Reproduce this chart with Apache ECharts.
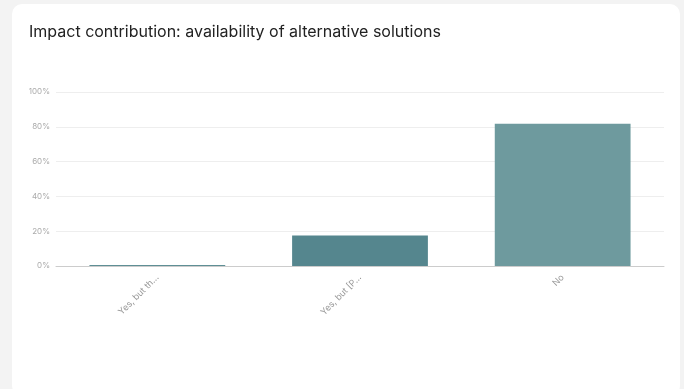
<!DOCTYPE html>
<html>
<head>
<meta charset="utf-8">
<script src="https://cdn.jsdelivr.net/npm/echarts@6/dist/echarts.min.js"></script>
<style>
  html, body { margin: 0; padding: 0; background: #f3f3f3; width: 684px; height: 389px; overflow: hidden; }
  #card { position: absolute; left: 12px; top: 4px; width: 668px; height: 392px; background: #fff; border-radius: 10px; }
  #chart { width: 668px; height: 392px; }
</style>
</head>
<body>
<div id="card"><div id="chart"></div></div>
<script>
// Share of responses per answer (percent)
const categories = ['Yes, but th...', 'Yes, but [P...', 'No'];
const shares = [0.6, 17.6, 81.8];
const barColors = ['#5f8f95', '#55868e', '#6e9a9e'];
const yTicks = [0, 20, 40, 60, 80, 100];

const chart = echarts.init(document.getElementById('chart'));
chart.setOption({
  animation: false,
  title: {
    text: 'Impact contribution: availability of alternative solutions',
    left: 12,
    top: 15,
    textStyle: { fontFamily: 'Inter', fontSize: 16, fontWeight: 'normal', color: '#222' }
  },
  grid: { left: 44, right: 16, top: 88, bottom: 130 },
  xAxis: {
    type: 'category',
    data: categories,
    axisTick: { show: false },
    axisLine: { lineStyle: { color: '#cccccc', width: 1 } },
    axisLabel: { rotate: 45, margin: 10, color: '#999', fontSize: 9, fontFamily: 'Inter' }
  },
  yAxis: {
    type: 'value',
    min: yTicks[0],
    max: yTicks[yTicks.length - 1],
    interval: 20,
    axisLabel: { formatter: '{value}%', color: '#aaa', fontSize: 8, margin: 6, fontFamily: 'Inter' },
    splitLine: { lineStyle: { color: '#eeeeee' } },
    axisLine: { show: false },
    axisTick: { show: false }
  },
  series: [{
    type: 'bar',
    barCategoryGap: '33%',
    data: shares.map((v, i) => ({ value: v, itemStyle: { color: barColors[i] } }))
  }]
});
</script>
</body>
</html>
